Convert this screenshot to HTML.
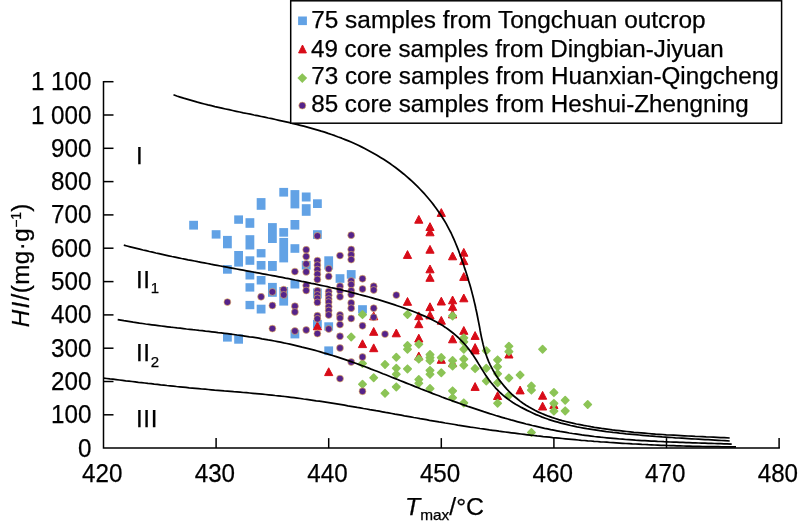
<!DOCTYPE html>
<html><head><meta charset="utf-8"><title>HI vs Tmax</title>
<style>
html,body{margin:0;padding:0;background:#fff;}
body{width:800px;height:529px;overflow:hidden;}
svg{display:block;}
text{font-family:"Liberation Sans",Arial,sans-serif;fill:#000;stroke:#000;stroke-width:0.25px;}
.t{font-size:24.2px;}
.lg{font-size:24.2px;}
.tk{font-size:26.4px;}
.ax{stroke:#000;stroke-width:1.5;fill:none;}
.cv{stroke:#000;stroke-width:1.75;fill:none;stroke-linecap:butt;stroke-linejoin:round;}
</style></head><body>
<svg width="800" height="529" viewBox="0 0 800 529">
<rect width="800" height="529" fill="#fff"/>

<g class="ax">
<path d="M103.5,80.9 V448.1 H779.9"/>
<path d="M103.5,414.8 h10"/>
<path d="M103.5,381.5 h10"/>
<path d="M103.5,348.2 h10"/>
<path d="M103.5,314.9 h10"/>
<path d="M103.5,281.6 h10"/>
<path d="M103.5,248.2 h10"/>
<path d="M103.5,214.9 h10"/>
<path d="M103.5,181.6 h10"/>
<path d="M103.5,148.3 h10"/>
<path d="M103.5,115.0 h10"/>
<path d="M103.5,81.7 h10"/>
<path d="M216.1,448.1 v-10"/>
<path d="M328.7,448.1 v-10"/>
<path d="M441.3,448.1 v-10"/>
<path d="M553.9,448.1 v-10"/>
<path d="M666.5,448.1 v-10"/>
<path d="M779.1,448.1 v-10"/>
</g>
<g class="tk">
<text x="78.05" y="456.6" textLength="13.45" lengthAdjust="spacingAndGlyphs">0</text>
<text x="51.10" y="423.3" textLength="40.4" lengthAdjust="spacingAndGlyphs">100</text>
<text x="51.10" y="390.0" textLength="40.4" lengthAdjust="spacingAndGlyphs">200</text>
<text x="51.10" y="356.7" textLength="40.4" lengthAdjust="spacingAndGlyphs">300</text>
<text x="51.10" y="323.4" textLength="40.4" lengthAdjust="spacingAndGlyphs">400</text>
<text x="51.10" y="290.1" textLength="40.4" lengthAdjust="spacingAndGlyphs">500</text>
<text x="51.10" y="256.7" textLength="40.4" lengthAdjust="spacingAndGlyphs">600</text>
<text x="51.10" y="223.4" textLength="40.4" lengthAdjust="spacingAndGlyphs">700</text>
<text x="51.10" y="190.1" textLength="40.4" lengthAdjust="spacingAndGlyphs">800</text>
<text x="51.10" y="156.8" textLength="40.4" lengthAdjust="spacingAndGlyphs">900</text>
<text x="30.90" y="123.5" textLength="60.6" lengthAdjust="spacingAndGlyphs">1 000</text>
<text x="30.90" y="90.2" textLength="60.6" lengthAdjust="spacingAndGlyphs">1 100</text>
</g>
<g class="tk">
<text x="82.1" y="481.7" textLength="40.4" lengthAdjust="spacingAndGlyphs">420</text>
<text x="194.7" y="481.7" textLength="40.4" lengthAdjust="spacingAndGlyphs">430</text>
<text x="307.3" y="481.7" textLength="40.4" lengthAdjust="spacingAndGlyphs">440</text>
<text x="419.9" y="481.7" textLength="40.4" lengthAdjust="spacingAndGlyphs">450</text>
<text x="532.5" y="481.7" textLength="40.4" lengthAdjust="spacingAndGlyphs">460</text>
<text x="645.1" y="481.7" textLength="40.4" lengthAdjust="spacingAndGlyphs">470</text>
<text x="757.7" y="481.7" textLength="40.4" lengthAdjust="spacingAndGlyphs">480</text>
</g>
<text class="t" x="405" y="514.6" textLength="79" lengthAdjust="spacingAndGlyphs"><tspan font-style="italic">T</tspan><tspan font-size="15" dy="5.6">max</tspan><tspan dy="-5.6">/°C</tspan></text>
<text class="t" transform="translate(28.8,327.2) rotate(-90)"><tspan font-style="italic" letter-spacing="1.3">HI</tspan><tspan letter-spacing="0.45">/(mg·g</tspan><tspan font-size="14" dy="-8">−1</tspan><tspan dy="8">)</tspan></text>
<g class="t" letter-spacing="0.55">
<text x="136.1" y="163.5">I</text>
<text x="136.1" y="287.5">II<tspan font-size="15" dy="5.6">1</tspan></text>
<text x="136.1" y="360.5">II<tspan font-size="15" dy="6">2</tspan></text>
<text x="136.1" y="426.6">III</text>
</g>
<g fill="#62a2e5">
<rect x="189.2" y="220.8" width="8.8" height="8.8"/>
<rect x="211.7" y="230.2" width="8.8" height="8.4"/>
<rect x="223.0" y="235.9" width="8.8" height="12.4"/>
<rect x="223.0" y="265.1" width="8.8" height="8.6"/>
<rect x="223.0" y="333.1" width="8.8" height="8.5"/>
<rect x="234.2" y="215.4" width="8.8" height="8.4"/>
<rect x="234.2" y="251.0" width="8.8" height="15.6"/>
<rect x="234.2" y="334.4" width="8.8" height="9.3"/>
<rect x="245.5" y="218.2" width="8.8" height="9.6"/>
<rect x="245.5" y="235.2" width="8.8" height="14.3"/>
<rect x="245.5" y="256.3" width="8.8" height="8.5"/>
<rect x="245.5" y="271.2" width="8.8" height="8.3"/>
<rect x="245.5" y="283.2" width="8.8" height="8.4"/>
<rect x="245.5" y="300.9" width="8.8" height="8.3"/>
<rect x="256.7" y="198.1" width="8.8" height="11.7"/>
<rect x="256.7" y="249.1" width="8.8" height="8.3"/>
<rect x="256.7" y="261.0" width="8.8" height="8.6"/>
<rect x="256.7" y="276.0" width="8.8" height="8.5"/>
<rect x="256.7" y="304.7" width="8.8" height="8.8"/>
<rect x="268.0" y="223.1" width="8.8" height="19.9"/>
<rect x="268.0" y="261.0" width="8.8" height="9.9"/>
<rect x="268.0" y="282.9" width="8.8" height="13.9"/>
<rect x="279.3" y="187.9" width="8.8" height="8.7"/>
<rect x="279.3" y="228.1" width="8.8" height="8.6"/>
<rect x="279.3" y="237.9" width="8.8" height="24.5"/>
<rect x="279.3" y="287.0" width="8.8" height="18.6"/>
<rect x="290.5" y="190.1" width="8.8" height="18.3"/>
<rect x="290.5" y="220.0" width="8.8" height="9.6"/>
<rect x="290.5" y="244.2" width="8.8" height="8.6"/>
<rect x="290.5" y="279.9" width="8.8" height="8.6"/>
<rect x="290.5" y="329.8" width="8.8" height="8.6"/>
<rect x="301.8" y="192.5" width="8.8" height="9.0"/>
<rect x="301.8" y="204.2" width="8.8" height="11.6"/>
<rect x="301.8" y="260.9" width="8.8" height="8.7"/>
<rect x="313.0" y="199.3" width="8.8" height="8.7"/>
<rect x="313.0" y="230.2" width="8.8" height="8.7"/>
<rect x="313.0" y="288.5" width="8.8" height="9.9"/>
<rect x="313.0" y="319.8" width="8.8" height="8.5"/>
<rect x="324.3" y="256.3" width="8.8" height="13.3"/>
<rect x="324.3" y="322.3" width="8.8" height="8.3"/>
<rect x="324.3" y="346.4" width="8.8" height="8.7"/>
<rect x="335.6" y="274.2" width="8.8" height="8.6"/>
<rect x="346.8" y="270.1" width="8.8" height="8.6"/>
<rect x="358.1" y="305.2" width="8.8" height="8.3"/>
</g>
<g fill="#d80c18" stroke="#d80c18" stroke-width="1" stroke-linejoin="round">
<path d="M317.4,322.0 l4.1,7.8 h-8.2z"/>
<path d="M328.7,367.8 l4.1,7.8 h-8.2z"/>
<path d="M362.5,339.8 l4.1,7.8 h-8.2z"/>
<path d="M373.7,312.0 l4.1,7.8 h-8.2z"/>
<path d="M373.7,327.5 l4.1,7.8 h-8.2z"/>
<path d="M373.7,343.9 l4.1,7.8 h-8.2z"/>
<path d="M396.3,329.0 l4.1,7.8 h-8.2z"/>
<path d="M407.5,250.6 l4.1,7.8 h-8.2z"/>
<path d="M407.5,297.5 l4.1,7.8 h-8.2z"/>
<path d="M418.8,215.4 l4.1,7.8 h-8.2z"/>
<path d="M418.8,311.9 l4.1,7.8 h-8.2z"/>
<path d="M418.8,319.9 l4.1,7.8 h-8.2z"/>
<path d="M418.8,334.2 l4.1,7.8 h-8.2z"/>
<path d="M418.8,352.1 l4.1,7.8 h-8.2z"/>
<path d="M430.0,222.7 l4.1,7.8 h-8.2z"/>
<path d="M430.0,228.0 l4.1,7.8 h-8.2z"/>
<path d="M430.0,245.4 l4.1,7.8 h-8.2z"/>
<path d="M430.0,265.0 l4.1,7.8 h-8.2z"/>
<path d="M430.0,273.5 l4.1,7.8 h-8.2z"/>
<path d="M430.0,302.8 l4.1,7.8 h-8.2z"/>
<path d="M430.0,311.1 l4.1,7.8 h-8.2z"/>
<path d="M441.3,208.6 l4.1,7.8 h-8.2z"/>
<path d="M441.3,297.2 l4.1,7.8 h-8.2z"/>
<path d="M441.3,316.4 l4.1,7.8 h-8.2z"/>
<path d="M441.3,355.5 l4.1,7.8 h-8.2z"/>
<path d="M452.6,252.0 l4.1,7.8 h-8.2z"/>
<path d="M452.6,296.0 l4.1,7.8 h-8.2z"/>
<path d="M452.6,302.5 l4.1,7.8 h-8.2z"/>
<path d="M452.6,310.1 l4.1,7.8 h-8.2z"/>
<path d="M452.6,335.0 l4.1,7.8 h-8.2z"/>
<path d="M452.6,358.9 l4.1,7.8 h-8.2z"/>
<path d="M463.8,248.4 l4.1,7.8 h-8.2z"/>
<path d="M463.8,256.8 l4.1,7.8 h-8.2z"/>
<path d="M463.8,272.6 l4.1,7.8 h-8.2z"/>
<path d="M463.8,294.0 l4.1,7.8 h-8.2z"/>
<path d="M463.8,326.5 l4.1,7.8 h-8.2z"/>
<path d="M475.1,331.6 l4.1,7.8 h-8.2z"/>
<path d="M475.1,343.6 l4.1,7.8 h-8.2z"/>
<path d="M475.1,346.1 l4.1,7.8 h-8.2z"/>
<path d="M475.1,382.6 l4.1,7.8 h-8.2z"/>
<path d="M497.6,391.7 l4.1,7.8 h-8.2z"/>
<path d="M508.9,350.2 l4.1,7.8 h-8.2z"/>
<path d="M520.1,386.1 l4.1,7.8 h-8.2z"/>
<path d="M542.6,391.4 l4.1,7.8 h-8.2z"/>
<path d="M542.6,402.2 l4.1,7.8 h-8.2z"/>
<path d="M553.9,400.7 l4.1,7.8 h-8.2z"/>
</g>
<g fill="#8cc456" stroke="#8cc456" stroke-width="1.6" stroke-linejoin="round">
<path d="M351.2,333.3 l3.7,3.7 l-3.7,3.7 l-3.7,-3.7z"/>
<path d="M362.5,310.9 l3.7,3.7 l-3.7,3.7 l-3.7,-3.7z"/>
<path d="M362.5,359.8 l3.7,3.7 l-3.7,3.7 l-3.7,-3.7z"/>
<path d="M362.5,380.5 l3.7,3.7 l-3.7,3.7 l-3.7,-3.7z"/>
<path d="M373.7,374.1 l3.7,3.7 l-3.7,3.7 l-3.7,-3.7z"/>
<path d="M385.0,360.8 l3.7,3.7 l-3.7,3.7 l-3.7,-3.7z"/>
<path d="M385.0,389.6 l3.7,3.7 l-3.7,3.7 l-3.7,-3.7z"/>
<path d="M396.3,353.6 l3.7,3.7 l-3.7,3.7 l-3.7,-3.7z"/>
<path d="M396.3,364.5 l3.7,3.7 l-3.7,3.7 l-3.7,-3.7z"/>
<path d="M396.3,370.5 l3.7,3.7 l-3.7,3.7 l-3.7,-3.7z"/>
<path d="M396.3,383.2 l3.7,3.7 l-3.7,3.7 l-3.7,-3.7z"/>
<path d="M407.5,310.7 l3.7,3.7 l-3.7,3.7 l-3.7,-3.7z"/>
<path d="M407.5,341.8 l3.7,3.7 l-3.7,3.7 l-3.7,-3.7z"/>
<path d="M407.5,345.6 l3.7,3.7 l-3.7,3.7 l-3.7,-3.7z"/>
<path d="M407.5,365.2 l3.7,3.7 l-3.7,3.7 l-3.7,-3.7z"/>
<path d="M418.8,340.6 l3.7,3.7 l-3.7,3.7 l-3.7,-3.7z"/>
<path d="M418.8,355.4 l3.7,3.7 l-3.7,3.7 l-3.7,-3.7z"/>
<path d="M418.8,375.8 l3.7,3.7 l-3.7,3.7 l-3.7,-3.7z"/>
<path d="M418.8,379.6 l3.7,3.7 l-3.7,3.7 l-3.7,-3.7z"/>
<path d="M430.0,350.9 l3.7,3.7 l-3.7,3.7 l-3.7,-3.7z"/>
<path d="M430.0,353.9 l3.7,3.7 l-3.7,3.7 l-3.7,-3.7z"/>
<path d="M430.0,356.9 l3.7,3.7 l-3.7,3.7 l-3.7,-3.7z"/>
<path d="M430.0,366.7 l3.7,3.7 l-3.7,3.7 l-3.7,-3.7z"/>
<path d="M430.0,370.5 l3.7,3.7 l-3.7,3.7 l-3.7,-3.7z"/>
<path d="M430.0,384.9 l3.7,3.7 l-3.7,3.7 l-3.7,-3.7z"/>
<path d="M441.3,353.9 l3.7,3.7 l-3.7,3.7 l-3.7,-3.7z"/>
<path d="M441.3,369.0 l3.7,3.7 l-3.7,3.7 l-3.7,-3.7z"/>
<path d="M452.6,312.2 l3.7,3.7 l-3.7,3.7 l-3.7,-3.7z"/>
<path d="M452.6,356.9 l3.7,3.7 l-3.7,3.7 l-3.7,-3.7z"/>
<path d="M452.6,362.2 l3.7,3.7 l-3.7,3.7 l-3.7,-3.7z"/>
<path d="M452.6,387.2 l3.7,3.7 l-3.7,3.7 l-3.7,-3.7z"/>
<path d="M452.6,394.0 l3.7,3.7 l-3.7,3.7 l-3.7,-3.7z"/>
<path d="M463.8,334.2 l3.7,3.7 l-3.7,3.7 l-3.7,-3.7z"/>
<path d="M463.8,338.2 l3.7,3.7 l-3.7,3.7 l-3.7,-3.7z"/>
<path d="M463.8,345.6 l3.7,3.7 l-3.7,3.7 l-3.7,-3.7z"/>
<path d="M463.8,355.4 l3.7,3.7 l-3.7,3.7 l-3.7,-3.7z"/>
<path d="M463.8,361.5 l3.7,3.7 l-3.7,3.7 l-3.7,-3.7z"/>
<path d="M463.8,399.2 l3.7,3.7 l-3.7,3.7 l-3.7,-3.7z"/>
<path d="M475.1,364.9 l3.7,3.7 l-3.7,3.7 l-3.7,-3.7z"/>
<path d="M486.3,347.1 l3.7,3.7 l-3.7,3.7 l-3.7,-3.7z"/>
<path d="M486.3,364.5 l3.7,3.7 l-3.7,3.7 l-3.7,-3.7z"/>
<path d="M486.3,377.3 l3.7,3.7 l-3.7,3.7 l-3.7,-3.7z"/>
<path d="M497.6,356.2 l3.7,3.7 l-3.7,3.7 l-3.7,-3.7z"/>
<path d="M497.6,363.0 l3.7,3.7 l-3.7,3.7 l-3.7,-3.7z"/>
<path d="M497.6,370.1 l3.7,3.7 l-3.7,3.7 l-3.7,-3.7z"/>
<path d="M497.6,379.1 l3.7,3.7 l-3.7,3.7 l-3.7,-3.7z"/>
<path d="M497.6,399.5 l3.7,3.7 l-3.7,3.7 l-3.7,-3.7z"/>
<path d="M508.9,342.6 l3.7,3.7 l-3.7,3.7 l-3.7,-3.7z"/>
<path d="M508.9,347.9 l3.7,3.7 l-3.7,3.7 l-3.7,-3.7z"/>
<path d="M508.9,374.3 l3.7,3.7 l-3.7,3.7 l-3.7,-3.7z"/>
<path d="M508.9,391.7 l3.7,3.7 l-3.7,3.7 l-3.7,-3.7z"/>
<path d="M520.1,371.3 l3.7,3.7 l-3.7,3.7 l-3.7,-3.7z"/>
<path d="M531.4,382.3 l3.7,3.7 l-3.7,3.7 l-3.7,-3.7z"/>
<path d="M531.4,386.4 l3.7,3.7 l-3.7,3.7 l-3.7,-3.7z"/>
<path d="M531.4,428.8 l3.7,3.7 l-3.7,3.7 l-3.7,-3.7z"/>
<path d="M542.6,345.6 l3.7,3.7 l-3.7,3.7 l-3.7,-3.7z"/>
<path d="M553.9,388.9 l3.7,3.7 l-3.7,3.7 l-3.7,-3.7z"/>
<path d="M553.9,399.7 l3.7,3.7 l-3.7,3.7 l-3.7,-3.7z"/>
<path d="M553.9,407.4 l3.7,3.7 l-3.7,3.7 l-3.7,-3.7z"/>
<path d="M565.2,396.5 l3.7,3.7 l-3.7,3.7 l-3.7,-3.7z"/>
<path d="M565.2,407.2 l3.7,3.7 l-3.7,3.7 l-3.7,-3.7z"/>
<path d="M587.7,400.8 l3.7,3.7 l-3.7,3.7 l-3.7,-3.7z"/>
</g>
<g fill="#55238a" stroke="#efb95c" stroke-width="0.6">
<circle cx="227.4" cy="302.1" r="3.45"/>
<circle cx="261.1" cy="296.8" r="3.45"/>
<circle cx="272.4" cy="291.9" r="3.45"/>
<circle cx="272.4" cy="305.5" r="3.45"/>
<circle cx="272.4" cy="328.6" r="3.45"/>
<circle cx="283.7" cy="289.6" r="3.45"/>
<circle cx="283.7" cy="294.9" r="3.45"/>
<circle cx="294.9" cy="271.6" r="3.45"/>
<circle cx="294.9" cy="306.2" r="3.45"/>
<circle cx="294.9" cy="312.0" r="3.45"/>
<circle cx="294.9" cy="331.0" r="3.45"/>
<circle cx="306.2" cy="249.8" r="3.45"/>
<circle cx="306.2" cy="256.5" r="3.45"/>
<circle cx="306.2" cy="263.9" r="3.45"/>
<circle cx="306.2" cy="271.9" r="3.45"/>
<circle cx="306.2" cy="285.5" r="3.45"/>
<circle cx="306.2" cy="290.5" r="3.45"/>
<circle cx="306.2" cy="330.0" r="3.45"/>
<circle cx="317.4" cy="235.9" r="3.45"/>
<circle cx="317.4" cy="260.6" r="3.45"/>
<circle cx="317.4" cy="265.1" r="3.45"/>
<circle cx="317.4" cy="269.6" r="3.45"/>
<circle cx="317.4" cy="274.2" r="3.45"/>
<circle cx="317.4" cy="279.5" r="3.45"/>
<circle cx="317.4" cy="290.8" r="3.45"/>
<circle cx="317.4" cy="294.9" r="3.45"/>
<circle cx="317.4" cy="298.4" r="3.45"/>
<circle cx="317.4" cy="302.4" r="3.45"/>
<circle cx="317.4" cy="315.7" r="3.45"/>
<circle cx="317.4" cy="318.8" r="3.45"/>
<circle cx="317.4" cy="333.6" r="3.45"/>
<circle cx="328.7" cy="268.9" r="3.45"/>
<circle cx="328.7" cy="276.4" r="3.45"/>
<circle cx="328.7" cy="291.6" r="3.45"/>
<circle cx="328.7" cy="295.3" r="3.45"/>
<circle cx="328.7" cy="299.1" r="3.45"/>
<circle cx="328.7" cy="302.1" r="3.45"/>
<circle cx="328.7" cy="306.7" r="3.45"/>
<circle cx="328.7" cy="310.5" r="3.45"/>
<circle cx="328.7" cy="315.0" r="3.45"/>
<circle cx="328.7" cy="329.0" r="3.45"/>
<circle cx="340.0" cy="255.6" r="3.45"/>
<circle cx="340.0" cy="286.3" r="3.45"/>
<circle cx="340.0" cy="290.8" r="3.45"/>
<circle cx="340.0" cy="296.8" r="3.45"/>
<circle cx="340.0" cy="315.0" r="3.45"/>
<circle cx="340.0" cy="318.0" r="3.45"/>
<circle cx="340.0" cy="324.6" r="3.45"/>
<circle cx="340.0" cy="336.3" r="3.45"/>
<circle cx="340.0" cy="348.0" r="3.45"/>
<circle cx="340.0" cy="378.6" r="3.45"/>
<circle cx="351.2" cy="235.2" r="3.45"/>
<circle cx="351.2" cy="249.5" r="3.45"/>
<circle cx="351.2" cy="254.8" r="3.45"/>
<circle cx="351.2" cy="259.6" r="3.45"/>
<circle cx="351.2" cy="281.0" r="3.45"/>
<circle cx="351.2" cy="284.5" r="3.45"/>
<circle cx="351.2" cy="290.8" r="3.45"/>
<circle cx="351.2" cy="294.6" r="3.45"/>
<circle cx="351.2" cy="302.9" r="3.45"/>
<circle cx="351.2" cy="308.2" r="3.45"/>
<circle cx="351.2" cy="318.5" r="3.45"/>
<circle cx="351.2" cy="362.0" r="3.45"/>
<circle cx="362.5" cy="278.7" r="3.45"/>
<circle cx="362.5" cy="289.0" r="3.45"/>
<circle cx="362.5" cy="325.8" r="3.45"/>
<circle cx="362.5" cy="357.0" r="3.45"/>
<circle cx="362.5" cy="391.3" r="3.45"/>
<circle cx="373.7" cy="286.3" r="3.45"/>
<circle cx="373.7" cy="290.0" r="3.45"/>
<circle cx="373.7" cy="308.2" r="3.45"/>
<circle cx="373.7" cy="317.3" r="3.45"/>
<circle cx="385.0" cy="334.1" r="3.45"/>
<circle cx="396.3" cy="295.1" r="3.45"/>
</g>
<path class="cv" d="M173.5,94.8 L176.8,96.0 L180.2,97.1 L183.6,98.2 L187.0,99.2 L190.5,100.2 L193.9,101.2 L197.4,102.2 L200.9,103.1 L204.4,104.0 L207.9,104.9 L211.4,105.7 L214.9,106.6 L218.4,107.4 L221.9,108.2 L225.5,109.0 L229.0,109.7 L232.6,110.5 L236.2,111.3 L239.7,112.0 L243.3,112.8 L246.9,113.5 L250.4,114.2 L254.0,115.0 L257.6,115.7 L261.2,116.5 L264.7,117.2 L268.3,118.0 L271.9,118.7 L275.5,119.5 L279.0,120.3 L282.6,121.1 L286.1,121.9 L289.7,122.7 L293.2,123.6 L296.8,124.4 L300.3,125.3 L303.8,126.2 L307.3,127.1 L310.8,128.1 L314.3,129.1 L317.8,130.1 L321.2,131.2 L324.7,132.2 L328.1,133.4 L331.5,134.5 L334.9,135.7 L338.3,137.0 L341.7,138.2 L345.1,139.6 L348.4,140.9 L351.7,142.3 L355.0,143.8 L358.3,145.3 L361.5,146.9 L364.7,148.5 L367.9,150.2 L371.1,151.9 L374.3,153.7 L377.4,155.5 L380.5,157.4 L383.6,159.3 L386.6,161.3 L389.6,163.3 L392.5,165.4 L395.5,167.5 L398.4,169.7 L401.2,172.0 L404.0,174.2 L406.8,176.6 L409.5,179.0 L412.2,181.4 L414.8,183.9 L417.4,186.4 L419.9,189.0 L422.4,191.6 L424.8,194.2 L427.2,197.0 L429.5,199.7 L431.8,202.5 L434.0,205.4 L436.1,208.3 L438.2,211.2 L440.3,214.2 L442.2,217.2 L444.1,220.3 L446.0,223.4 L447.7,226.6 L449.4,229.8 L451.1,233.0 L452.6,236.3 L454.1,239.7 L455.5,243.0 L456.9,246.4 L458.3,249.8 L459.5,253.3 L460.8,256.7 L462.0,260.2 L463.2,263.6 L464.3,267.1 L465.5,270.6 L466.6,274.1 L467.7,277.5 L468.7,281.0 L469.8,284.5 L470.8,288.0 L471.7,291.4 L472.6,294.9 L473.5,298.4 L474.3,301.9 L475.2,305.5 L475.9,309.0 L476.7,312.5 L477.4,316.0 L478.1,319.6 L478.8,323.1 L479.5,326.7 L480.1,330.2 L480.8,333.8 L481.5,337.3 L482.3,340.9 L483.1,344.4 L484.0,347.9 L485.0,351.4 L486.1,354.8 L487.3,358.2 L488.7,361.6 L490.2,364.8 L491.9,368.1 L493.6,371.3 L495.5,374.4 L497.5,377.4 L499.6,380.4 L501.9,383.3 L504.2,386.1 L506.6,388.9 L509.1,391.5 L511.7,394.1 L514.4,396.5 L517.2,398.8 L520.1,401.1 L523.0,403.2 L526.0,405.2 L529.0,407.1 L532.1,408.8 L535.3,410.5 L538.5,412.1 L541.8,413.5 L545.1,414.9 L548.4,416.2 L551.8,417.4 L555.3,418.5 L558.7,419.6 L562.2,420.6 L565.7,421.5 L569.3,422.4 L572.8,423.2 L576.4,424.0 L580.0,424.7 L583.6,425.4 L587.2,426.0 L590.8,426.7 L594.4,427.3 L598.0,427.8 L601.5,428.4 L605.1,428.9 L608.7,429.4 L612.3,429.9 L615.9,430.3 L619.5,430.7 L623.1,431.1 L626.7,431.5 L630.3,431.9 L633.9,432.3 L637.5,432.6 L641.1,432.9 L644.7,433.2 L648.3,433.5 L651.9,433.8 L655.5,434.1 L659.1,434.3 L662.7,434.5 L666.3,434.8 L669.9,435.0 L673.5,435.2 L677.2,435.4 L680.8,435.6 L684.4,435.8 L688.0,436.0 L691.6,436.2 L695.2,436.4 L698.9,436.5 L702.5,436.7 L706.1,436.9 L709.7,437.0 L713.4,437.2 L717.0,437.4 L720.6,437.6 L724.3,437.7 L729.7,438.0"/>
<path class="cv" d="M123.8,245.2 L127.0,246.0 L130.2,246.8 L133.4,247.6 L136.5,248.4 L139.7,249.2 L143.0,250.0 L146.2,250.7 L149.4,251.5 L152.6,252.2 L155.8,253.0 L159.0,253.7 L162.2,254.4 L165.4,255.1 L168.7,255.8 L171.9,256.5 L175.1,257.1 L178.4,257.8 L181.6,258.5 L184.8,259.1 L188.1,259.8 L191.3,260.4 L194.5,261.0 L197.8,261.7 L201.0,262.3 L204.3,262.9 L207.5,263.5 L210.7,264.2 L214.0,264.8 L217.2,265.4 L220.5,266.0 L223.7,266.6 L227.0,267.2 L230.2,267.8 L233.5,268.4 L236.7,269.0 L240.0,269.6 L243.2,270.2 L246.5,270.8 L249.7,271.4 L253.0,272.0 L256.2,272.6 L259.5,273.2 L262.7,273.8 L266.0,274.4 L269.2,275.0 L272.5,275.6 L275.7,276.2 L278.9,276.8 L282.2,277.4 L285.4,278.1 L288.7,278.7 L291.9,279.3 L295.1,280.0 L298.4,280.6 L301.6,281.3 L304.8,281.9 L308.1,282.6 L311.3,283.3 L314.5,283.9 L317.7,284.6 L320.9,285.3 L324.2,286.0 L327.4,286.7 L330.6,287.5 L333.8,288.2 L337.0,288.9 L340.2,289.7 L343.4,290.5 L346.6,291.2 L349.8,292.0 L353.0,292.8 L356.2,293.6 L359.3,294.5 L362.5,295.3 L365.7,296.2 L368.9,297.0 L372.0,297.9 L375.2,298.8 L378.3,299.7 L381.5,300.7 L384.6,301.6 L387.8,302.6 L390.9,303.6 L394.1,304.6 L397.2,305.7 L400.3,306.8 L403.5,307.9 L406.6,309.0 L409.7,310.1 L412.8,311.3 L415.9,312.5 L419.0,313.8 L422.1,315.1 L425.1,316.4 L428.2,317.8 L431.1,319.2 L434.1,320.7 L437.0,322.3 L439.9,323.9 L442.7,325.6 L445.4,327.4 L448.1,329.3 L450.7,331.2 L453.3,333.3 L455.8,335.4 L458.2,337.5 L460.5,339.8 L462.8,342.1 L465.0,344.5 L467.1,347.0 L469.1,349.6 L471.1,352.3 L473.0,355.0 L474.8,357.7 L476.6,360.5 L478.3,363.4 L480.1,366.2 L481.8,369.1 L483.6,371.9 L485.4,374.7 L487.3,377.5 L489.2,380.2 L491.2,382.8 L493.3,385.3 L495.4,387.8 L497.7,390.2 L500.0,392.5 L502.4,394.7 L504.9,396.8 L507.5,398.8 L510.1,400.6 L512.8,402.5 L515.6,404.2 L518.4,405.8 L521.3,407.4 L524.2,408.9 L527.1,410.4 L530.1,411.8 L533.1,413.2 L536.1,414.6 L539.1,415.8 L542.2,417.1 L545.3,418.2 L548.4,419.3 L551.5,420.3 L554.7,421.3 L557.8,422.2 L561.0,423.1 L564.2,423.9 L567.4,424.7 L570.6,425.5 L573.8,426.2 L577.0,426.9 L580.3,427.5 L583.5,428.1 L586.8,428.7 L590.0,429.2 L593.3,429.7 L596.5,430.2 L599.8,430.7 L603.1,431.1 L606.4,431.6 L609.6,432.0 L612.9,432.4 L616.2,432.7 L619.5,433.1 L622.8,433.4 L626.1,433.8 L629.3,434.1 L632.6,434.4 L635.9,434.7 L639.2,435.0 L642.5,435.3 L645.8,435.6 L649.1,435.9 L652.3,436.1 L655.6,436.4 L658.9,436.6 L662.2,436.9 L665.5,437.1 L668.8,437.3 L672.1,437.5 L675.4,437.8 L678.7,438.0 L681.9,438.2 L685.2,438.4 L688.5,438.6 L691.8,438.8 L695.1,439.0 L698.4,439.2 L701.7,439.4 L705.0,439.6 L708.3,439.7 L711.6,439.9 L714.9,440.1 L718.2,440.3 L721.5,440.5 L724.8,440.7 L729.7,441.0"/>
<path class="cv" d="M117.7,319.6 L120.8,320.1 L123.9,320.7 L127.0,321.2 L130.1,321.7 L133.2,322.2 L136.3,322.6 L139.4,323.1 L142.5,323.5 L145.6,324.0 L148.8,324.4 L151.9,324.8 L155.0,325.2 L158.2,325.6 L161.3,326.0 L164.5,326.4 L167.6,326.8 L170.8,327.2 L173.9,327.5 L177.1,327.9 L180.2,328.2 L183.4,328.6 L186.5,329.0 L189.7,329.3 L192.8,329.7 L196.0,330.0 L199.1,330.4 L202.3,330.7 L205.4,331.1 L208.6,331.4 L211.8,331.8 L214.9,332.2 L218.1,332.6 L221.2,332.9 L224.4,333.3 L227.5,333.7 L230.7,334.1 L233.8,334.5 L237.0,335.0 L240.1,335.4 L243.2,335.8 L246.4,336.3 L249.5,336.8 L252.6,337.2 L255.8,337.7 L258.9,338.2 L262.0,338.8 L265.1,339.3 L268.2,339.9 L271.3,340.4 L274.4,341.0 L277.5,341.6 L280.6,342.2 L283.7,342.9 L286.8,343.5 L289.9,344.2 L293.0,344.9 L296.0,345.6 L299.1,346.3 L302.1,347.1 L305.2,347.8 L308.3,348.6 L311.3,349.4 L314.3,350.2 L317.4,351.0 L320.4,351.9 L323.4,352.8 L326.5,353.6 L329.5,354.6 L332.5,355.5 L335.5,356.4 L338.5,357.4 L341.5,358.4 L344.5,359.4 L347.4,360.4 L350.4,361.4 L353.4,362.5 L356.4,363.5 L359.3,364.6 L362.3,365.7 L365.2,366.8 L368.2,367.9 L371.1,369.1 L374.1,370.2 L377.0,371.3 L380.0,372.5 L382.9,373.7 L385.8,374.8 L388.8,376.0 L391.7,377.2 L394.7,378.4 L397.6,379.5 L400.5,380.7 L403.5,381.9 L406.4,383.1 L409.4,384.3 L412.3,385.4 L415.2,386.6 L418.2,387.8 L421.1,389.0 L424.1,390.1 L427.0,391.3 L430.0,392.4 L432.9,393.6 L435.9,394.7 L438.9,395.8 L441.8,397.0 L444.8,398.1 L447.8,399.2 L450.8,400.3 L453.7,401.4 L456.7,402.4 L459.7,403.5 L462.7,404.6 L465.7,405.6 L468.7,406.7 L471.7,407.7 L474.7,408.7 L477.7,409.7 L480.7,410.7 L483.7,411.7 L486.7,412.6 L489.7,413.6 L492.7,414.5 L495.7,415.5 L498.8,416.4 L501.8,417.3 L504.8,418.2 L507.9,419.0 L510.9,419.9 L513.9,420.7 L517.0,421.6 L520.0,422.4 L523.1,423.2 L526.1,424.0 L529.2,424.7 L532.3,425.5 L535.3,426.2 L538.4,426.9 L541.5,427.6 L544.6,428.3 L547.6,428.9 L550.7,429.6 L553.8,430.2 L556.9,430.8 L560.0,431.4 L563.1,431.9 L566.2,432.4 L569.3,433.0 L572.5,433.5 L575.6,433.9 L578.7,434.4 L581.8,434.9 L585.0,435.3 L588.1,435.7 L591.2,436.1 L594.4,436.5 L597.5,436.8 L600.6,437.2 L603.8,437.5 L606.9,437.8 L610.1,438.1 L613.2,438.4 L616.4,438.7 L619.6,439.0 L622.7,439.2 L625.9,439.5 L629.0,439.7 L632.2,439.9 L635.4,440.2 L638.5,440.4 L641.7,440.6 L644.9,440.7 L648.0,440.9 L651.2,441.1 L654.4,441.2 L657.5,441.4 L660.7,441.5 L663.9,441.7 L667.0,441.8 L670.2,442.0 L673.4,442.1 L676.5,442.2 L679.7,442.3 L682.9,442.4 L686.0,442.6 L689.2,442.7 L692.4,442.8 L695.5,442.9 L698.7,443.0 L701.8,443.1 L705.0,443.2 L708.1,443.3 L711.3,443.4 L714.5,443.5 L717.6,443.6 L720.7,443.7 L723.9,443.8 L727.0,443.9 L731.7,444.1"/>
<path class="cv" d="M103.5,378.1 L106.7,378.5 L109.9,378.9 L113.0,379.2 L116.2,379.6 L119.4,380.0 L122.5,380.4 L125.7,380.8 L128.9,381.1 L132.0,381.5 L135.2,381.9 L138.4,382.3 L141.6,382.6 L144.7,383.0 L147.9,383.4 L151.1,383.7 L154.2,384.1 L157.4,384.4 L160.6,384.8 L163.8,385.1 L166.9,385.5 L170.1,385.8 L173.3,386.1 L176.5,386.5 L179.6,386.8 L182.8,387.1 L186.0,387.4 L189.2,387.8 L192.3,388.1 L195.5,388.4 L198.7,388.7 L201.9,389.0 L205.1,389.2 L208.2,389.5 L211.4,389.8 L214.6,390.1 L217.8,390.3 L221.0,390.6 L224.2,390.9 L227.4,391.1 L230.5,391.4 L233.7,391.7 L236.9,391.9 L240.1,392.2 L243.3,392.5 L246.5,392.7 L249.7,393.0 L252.8,393.3 L256.0,393.6 L259.2,393.9 L262.4,394.2 L265.6,394.5 L268.7,394.8 L271.9,395.1 L275.1,395.5 L278.3,395.8 L281.4,396.2 L284.6,396.5 L287.8,396.9 L290.9,397.3 L294.1,397.7 L297.3,398.1 L300.4,398.5 L303.6,399.0 L306.8,399.4 L309.9,399.8 L313.1,400.3 L316.2,400.8 L319.4,401.2 L322.6,401.7 L325.7,402.2 L328.9,402.7 L332.0,403.2 L335.2,403.7 L338.3,404.2 L341.5,404.7 L344.6,405.2 L347.8,405.8 L350.9,406.3 L354.1,406.8 L357.2,407.4 L360.3,407.9 L363.5,408.5 L366.6,409.0 L369.8,409.6 L372.9,410.1 L376.1,410.7 L379.2,411.2 L382.4,411.8 L385.5,412.4 L388.6,412.9 L391.8,413.5 L394.9,414.1 L398.1,414.6 L401.2,415.2 L404.4,415.8 L407.5,416.3 L410.6,416.9 L413.8,417.5 L416.9,418.0 L420.1,418.6 L423.2,419.1 L426.4,419.7 L429.5,420.3 L432.6,420.8 L435.8,421.3 L438.9,421.9 L442.1,422.4 L445.2,423.0 L448.4,423.5 L451.5,424.0 L454.7,424.5 L457.8,425.1 L461.0,425.6 L464.1,426.1 L467.3,426.6 L470.4,427.1 L473.6,427.5 L476.8,428.0 L479.9,428.5 L483.1,428.9 L486.2,429.4 L489.4,429.9 L492.5,430.3 L495.7,430.7 L498.9,431.2 L502.0,431.6 L505.2,432.0 L508.4,432.4 L511.5,432.8 L514.7,433.2 L517.9,433.6 L521.0,434.0 L524.2,434.4 L527.4,434.8 L530.5,435.2 L533.7,435.5 L536.9,435.9 L540.0,436.2 L543.2,436.6 L546.4,436.9 L549.6,437.2 L552.7,437.6 L555.9,437.9 L559.1,438.2 L562.3,438.5 L565.4,438.8 L568.6,439.1 L571.8,439.4 L575.0,439.7 L578.2,440.0 L581.3,440.3 L584.5,440.5 L587.7,440.8 L590.9,441.0 L594.1,441.3 L597.2,441.5 L600.4,441.8 L603.6,442.0 L606.8,442.2 L610.0,442.5 L613.2,442.7 L616.4,442.9 L619.5,443.1 L622.7,443.3 L625.9,443.5 L629.1,443.7 L632.3,443.9 L635.5,444.0 L638.7,444.2 L641.8,444.4 L645.0,444.5 L648.2,444.7 L651.4,444.8 L654.6,445.0 L657.8,445.1 L661.0,445.3 L664.2,445.4 L667.4,445.5 L670.6,445.6 L673.7,445.7 L676.9,445.8 L680.1,445.9 L683.3,446.0 L686.5,446.1 L689.7,446.2 L692.9,446.3 L696.1,446.4 L699.3,446.4 L702.5,446.5 L705.7,446.6 L708.9,446.6 L712.1,446.7 L715.3,446.7 L718.4,446.7 L721.6,446.8 L724.8,446.8 L728.0,446.8 L731.2,446.8 L736.0,446.9"/>
<rect x="290.7" y="0.8" width="490.9" height="122.4" fill="#fff" stroke="#000" stroke-width="1.5"/>
<rect x="298.1" y="16.5" width="8.8" height="8.6" fill="#62a2e5"/>
<path d="M302.5,45 l3.9,7.9 h-7.8z" fill="#d80c18" stroke="#d80c18" stroke-width="1" stroke-linejoin="round"/>
<path d="M302.3,73.2 l4.9,4.9 l-4.9,4.9 l-4.9,-4.9z" fill="#8cc456"/>
<circle cx="302.3" cy="105.6" r="3.5" fill="#55238a" stroke="#efb95c" stroke-width="0.6"/>
<g class="lg">
<text x="311.2" y="28.3" textLength="394.4" lengthAdjust="spacingAndGlyphs">75 samples from Tongchuan outcrop</text>
<text x="311" y="57">49 core samples from Dingbian-Jiyuan</text>
<text x="311.2" y="84" textLength="467.6" lengthAdjust="spacingAndGlyphs">73 core samples from Huanxian-Qingcheng</text>
<text x="311.2" y="111.6" textLength="437.6" lengthAdjust="spacingAndGlyphs">85 core samples from Heshui-Zhengning</text>
</g>
</svg></body></html>
